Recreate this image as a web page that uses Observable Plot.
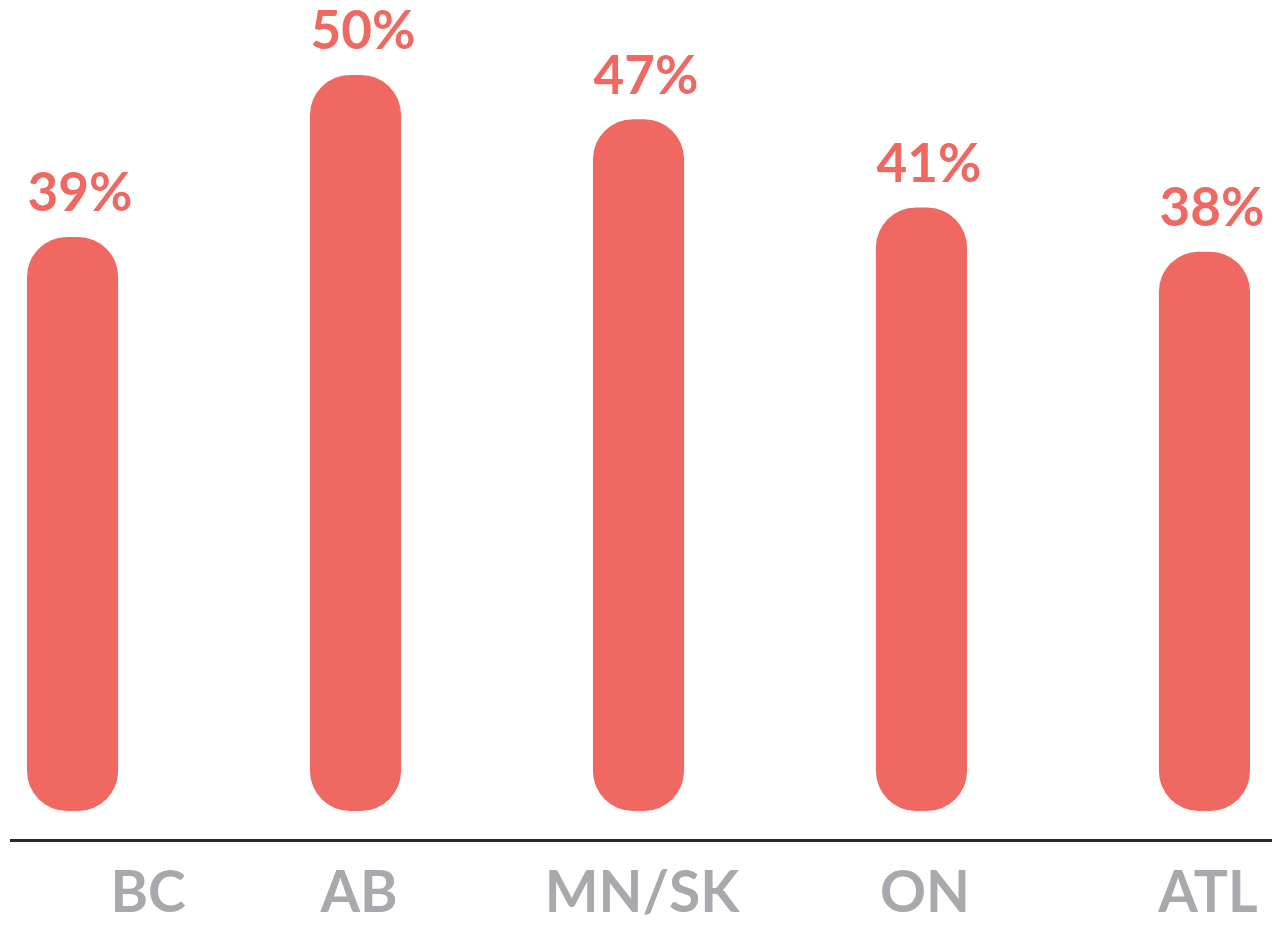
<!DOCTYPE html>
<html>
<head>
<meta charset="utf-8">
<script src="https://cdn.jsdelivr.net/npm/d3@7"></script>
<script src="https://cdn.jsdelivr.net/npm/@observablehq/plot@0.6"></script>
<style>
  html, body { margin: 0; padding: 0; background: #fff; }
  #chart { width: 1274px; height: 926px; }
</style>
</head>
<body>
<div id="chart"></div>
<script>
const regions = ["BC", "AB", "MN/SK", "ON", "ATL"];
const shares = [39, 50, 47, 41, 38];

const data = regions.map((r, i) => ({region: r, value: shares[i]}));

const barColor = "#F06862";
const labelGray = "#A7A9AC";
const font = "Lato, 'Open Sans', 'DejaVu Sans', sans-serif";

const chart = Plot.plot({
  width: 1274,
  height: 926,
  marginLeft: 27,
  marginRight: 24,
  marginTop: 75,
  marginBottom: 115,
  style: {fontFamily: font, background: "#fff", overflow: "visible"},
  x: {domain: regions, paddingInner: 0.678, paddingOuter: 0, round: false, axis: null},
  y: {domain: [0, 50], axis: null},
  marks: [
    Plot.barY(data, {x: "region", y: "value", fill: barColor, rx: 40}),
    Plot.text(data, {
      x: "region", y: "value",
      text: d => d.value + "%",
      dx: 7, dy: -43,
      fill: barColor, fontSize: 53, fontWeight: 700
    }),
    Plot.ruleY([0], {dy: 29, insetLeft: -17, insetRight: -22, stroke: "#2a2a2a", strokeWidth: 3}),
    Plot.text(data.filter(d => d.region === "BC"), {
      x: "region", y: () => 0, text: "region",
      dx: 75, dy: 82,
      fill: labelGray, fontSize: 57, fontWeight: 700
    }),
    Plot.text(data.filter(d => d.region !== "BC"), {
      x: "region", y: () => 0, text: "region",
      dx: 3, dy: 82,
      fill: labelGray, fontSize: 57, fontWeight: 700
    })
  ]
});

document.getElementById("chart").appendChild(chart);
</script>
</body>
</html>
